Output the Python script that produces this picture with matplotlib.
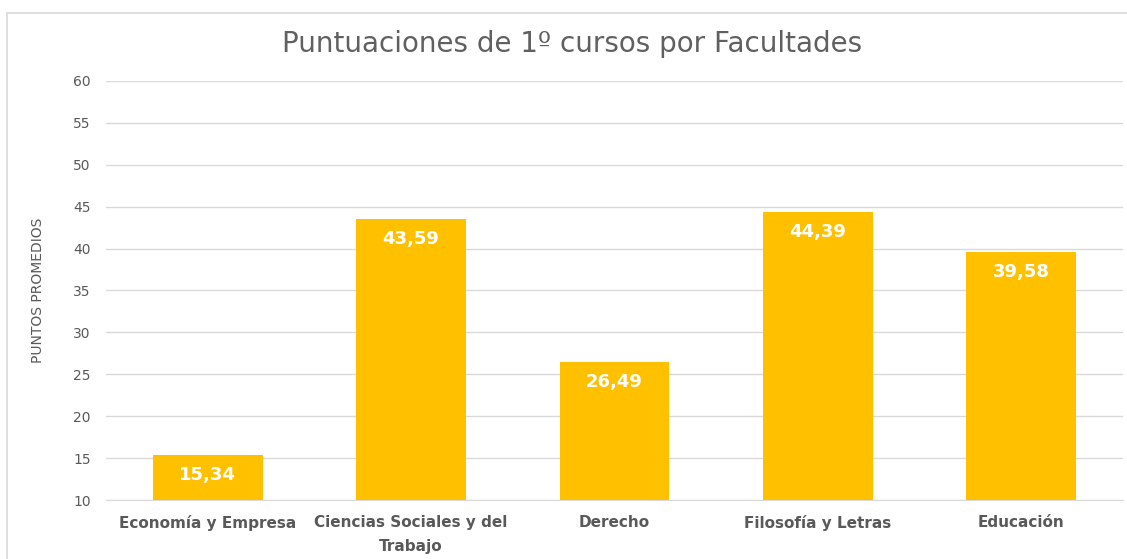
import numpy as np
import matplotlib.pyplot as plt
from matplotlib.patches import Rectangle

categorias = ['Economía y Empresa', 'Ciencias Sociales y del\nTrabajo', 'Derecho',
              'Filosofía y Letras', 'Educación']
puntos = [15.34, 43.59, 26.49, 44.39, 39.58]
ticks_y = [10, 15, 20, 25, 30, 35, 40, 45, 50, 55, 60]

gris = '#595959'

fig = plt.figure(figsize=(11.27, 5.59), dpi=100)
fig.patches.append(Rectangle((7 / 1127, -0.1), 1.2, 1.1 - 13 / 559,
                             transform=fig.transFigure, fill=False,
                             edgecolor='#d9d9d9', linewidth=1.2))
ax = fig.add_axes([106 / 1127, 1 - 500 / 559, (1123 - 106) / 1127, (500 - 81) / 559])

x = np.arange(len(categorias))
bars = ax.bar(x, puntos, width=0.54, color='#FFC000', zorder=3)
for b, v in zip(bars, puntos):
    ax.annotate(f'{v:.2f}'.replace('.', ','), (b.get_x() + b.get_width() / 2, v),
                xytext=(0, -8), textcoords='offset points', ha='center', va='top',
                color='white', fontsize=13, fontweight='bold', zorder=4)

ax.set_ylim(10, 60)
ax.set_xlim(-0.5, len(categorias) - 0.5)
ax.set_yticks(ticks_y)
ax.yaxis.grid(True, color='#d9d9d9', linewidth=1, zorder=0)
ax.set_xticks(x)
ax.set_xticklabels(categorias, fontsize=11, fontweight='bold', color=gris,
                   linespacing=1.7)
ax.tick_params(axis='y', labelsize=10, colors=gris, length=0, pad=11)
ax.tick_params(axis='x', length=0, pad=11)
for s in ax.spines.values():
    s.set_visible(False)
ax.spines['bottom'].set_visible(True)
ax.spines['bottom'].set_color('#d9d9d9')

ax.set_ylabel('PUNTOS PROMEDIOS', fontsize=10, color=gris, labelpad=20)
fig.text(572 / 1127, 1 - 44 / 559, 'Puntuaciones de 1º cursos por Facultades',
         ha='center', va='center', fontsize=20, color='#606060')

fig.savefig('out.png', dpi=100)
